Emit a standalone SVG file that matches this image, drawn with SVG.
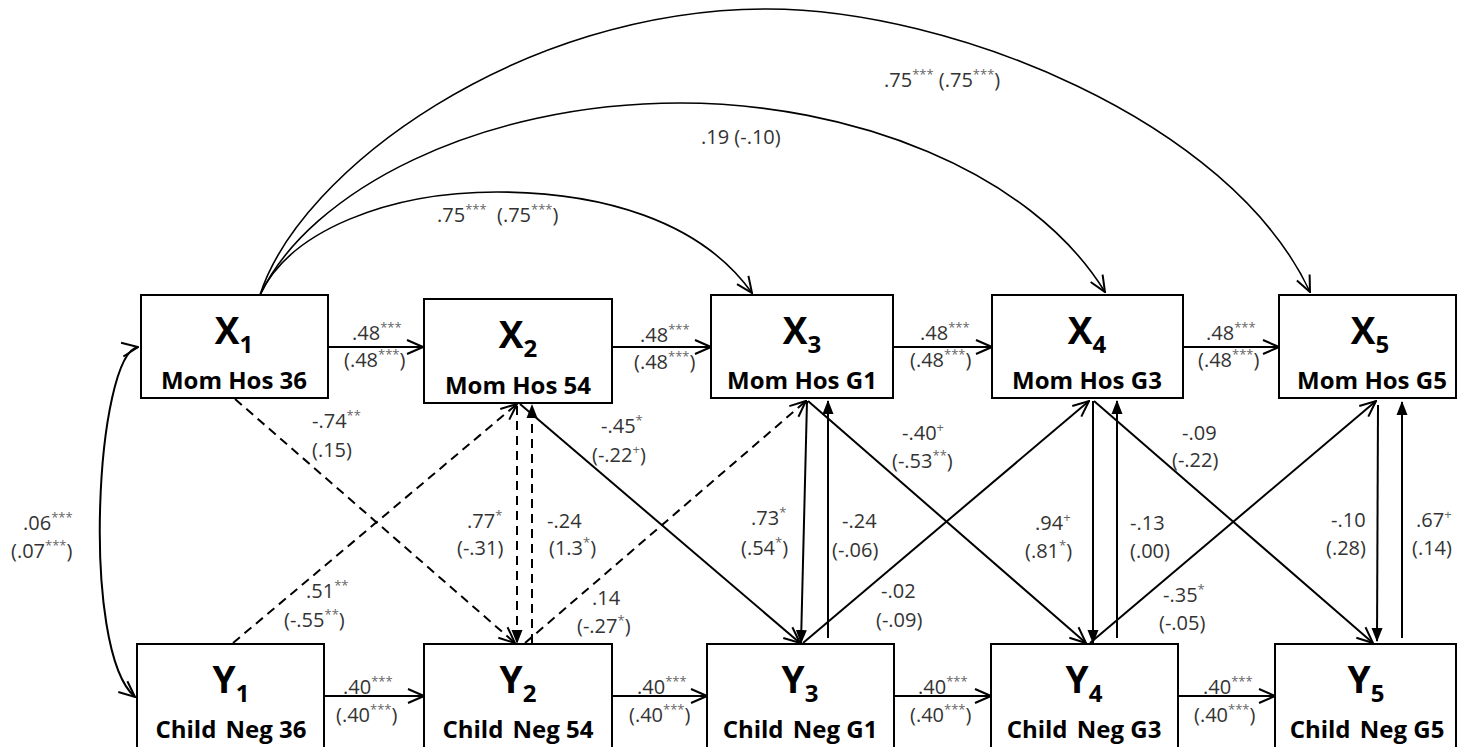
<svg xmlns="http://www.w3.org/2000/svg" width="1457" height="747" viewBox="0 0 1457 747">
<style>
.box{fill:#fff;stroke:#000;stroke-width:2}
.nt{font-family:"Open Sans","Liberation Sans",sans-serif;font-weight:bold;fill:#000;text-anchor:middle}
.big{font-size:37px}
.sub{font-size:24px}
.name{font-size:24px}
.lab{font-family:"Open Sans","Liberation Sans",sans-serif;font-size:20px;fill:#333}
.st{font-size:13px;fill:#666}
.c{fill:none;stroke:#000;stroke-width:2}
.d{stroke-dasharray:9 6}
.arc{stroke-width:1.6}
</style>
<defs>
<marker id="open" viewBox="0 0 18 18" refX="17" refY="9" markerWidth="18" markerHeight="18" markerUnits="userSpaceOnUse" orient="auto-start-reverse"><path d="M1,2 L17,9 L1,16" fill="none" stroke="#000" stroke-width="2"/></marker>
<marker id="fill" viewBox="0 0 14 14" refX="13" refY="7" markerWidth="14" markerHeight="14" markerUnits="userSpaceOnUse" orient="auto"><path d="M0,1.5 L14,7 L0,12.5 Z" fill="#000"/></marker>
</defs>
<rect width="1457" height="747" fill="#fff"/>
<g id="connectors">
<path class="c arc" d="M260,295 C290,230 390,192 497,192 C600,192 700,220 752,293" marker-end="url(#open)"/>
<path class="c arc" d="M260,295 C310,190 480,103 680,103 C850,103 1030,170 1105,292" marker-end="url(#open)"/>
<path class="c arc" d="M260,295 C300,170 520,9 767,9 C950,9 1230,120 1310,292" marker-end="url(#open)"/>
<path class="c" d="M138,347 C96,354 80,650 135,697" marker-start="url(#open)" marker-end="url(#open)"/>
<line class="c" x1="328" y1="347" x2="423" y2="347" marker-end="url(#open)"/>
<line class="c" x1="612" y1="347" x2="711" y2="347" marker-end="url(#open)"/>
<line class="c" x1="893" y1="347" x2="992" y2="347" marker-end="url(#open)"/>
<line class="c" x1="1183" y1="347" x2="1279" y2="347" marker-end="url(#open)"/>
<line class="c" x1="324" y1="696" x2="424" y2="696" marker-end="url(#open)"/>
<line class="c" x1="612" y1="696" x2="707" y2="696" marker-end="url(#open)"/>
<line class="c" x1="894" y1="696" x2="991" y2="696" marker-end="url(#open)"/>
<line class="c" x1="1178" y1="696" x2="1275" y2="696" marker-end="url(#open)"/>
<line class="c d" x1="235" y1="399" x2="515" y2="643" marker-end="url(#open)"/>
<line class="c d" x1="233" y1="643" x2="517" y2="404" marker-end="url(#open)"/>
<line class="c d" x1="517" y1="406" x2="517" y2="643" marker-end="url(#fill)"/>
<line class="c d" x1="532" y1="643" x2="532" y2="405" marker-end="url(#fill)"/>
<line class="c" x1="520" y1="404" x2="800" y2="643" marker-end="url(#open)"/>
<line class="c d" x1="525" y1="643" x2="806" y2="401" marker-end="url(#open)"/>
<line class="c" x1="807" y1="401" x2="801" y2="643" marker-end="url(#fill)"/>
<line class="c" x1="828" y1="638" x2="828" y2="401" marker-end="url(#fill)"/>
<line class="c" x1="808" y1="401" x2="1086" y2="643" marker-end="url(#open)"/>
<line class="c" x1="803" y1="643" x2="1089" y2="401" marker-end="url(#open)"/>
<line class="c" x1="1093" y1="401" x2="1093" y2="643" marker-end="url(#fill)"/>
<line class="c" x1="1117" y1="638" x2="1117" y2="401" marker-end="url(#fill)"/>
<line class="c" x1="1094" y1="401" x2="1373" y2="643" marker-end="url(#open)"/>
<line class="c" x1="1090" y1="643" x2="1376" y2="401" marker-end="url(#open)"/>
<line class="c" x1="1378" y1="405" x2="1377" y2="641" marker-end="url(#fill)"/>
<line class="c" x1="1402" y1="638" x2="1402" y2="402" marker-end="url(#fill)"/>
</g>
<g id="labels" class="lab">
<text x="437" y="222">.75<tspan class="st" dy="-8">***</tspan><tspan dy="8" xml:space="preserve">  (.75</tspan><tspan class="st" dy="-8">***</tspan><tspan dy="8">)</tspan></text>
<text x="701" y="144">.19 (-.10)</text>
<text x="884" y="87">.75<tspan class="st" dy="-8">***</tspan><tspan dy="8"> (.75</tspan><tspan class="st" dy="-8">***</tspan><tspan dy="8">)</tspan></text>
<text x="23" y="530">.06<tspan class="st" dy="-8">***</tspan></text>
<text x="11" y="558">(.07<tspan class="st" dy="-8">***</tspan><tspan dy="8">)</tspan></text>
<text x="352" y="340">.48<tspan class="st" dy="-8">***</tspan></text>
<text x="344" y="367">(.48<tspan class="st" dy="-8">***</tspan><tspan dy="8">)</tspan></text>
<text x="640" y="342">.48<tspan class="st" dy="-8">***</tspan></text>
<text x="634" y="369">(.48<tspan class="st" dy="-8">***</tspan><tspan dy="8">)</tspan></text>
<text x="920" y="340">.48<tspan class="st" dy="-8">***</tspan></text>
<text x="910" y="367">(.48<tspan class="st" dy="-8">***</tspan><tspan dy="8">)</tspan></text>
<text x="1206" y="340">.48<tspan class="st" dy="-8">***</tspan></text>
<text x="1198" y="367">(.48<tspan class="st" dy="-8">***</tspan><tspan dy="8">)</tspan></text>
<text x="343" y="694">.40<tspan class="st" dy="-8">***</tspan></text>
<text x="336" y="722">(.40<tspan class="st" dy="-8">***</tspan><tspan dy="8">)</tspan></text>
<text x="637" y="694">.40<tspan class="st" dy="-8">***</tspan></text>
<text x="629" y="722">(.40<tspan class="st" dy="-8">***</tspan><tspan dy="8">)</tspan></text>
<text x="918" y="694">.40<tspan class="st" dy="-8">***</tspan></text>
<text x="910" y="722">(.40<tspan class="st" dy="-8">***</tspan><tspan dy="8">)</tspan></text>
<text x="1203" y="694">.40<tspan class="st" dy="-8">***</tspan></text>
<text x="1194" y="722">(.40<tspan class="st" dy="-8">***</tspan><tspan dy="8">)</tspan></text>
<text x="312" y="428">-.74<tspan class="st" dy="-8">**</tspan></text>
<text x="312" y="457">(.15)</text>
<text x="306" y="598">.51<tspan class="st" dy="-8">**</tspan></text>
<text x="284" y="627">(-.55<tspan class="st" dy="-8">**</tspan><tspan dy="8">)</tspan></text>
<text x="467" y="528">.77<tspan class="st" dy="-8">*</tspan></text>
<text x="457" y="555">(-.31)</text>
<text x="547" y="528">-.24</text>
<text x="549" y="555">(1.3<tspan class="st" dy="-8">*</tspan><tspan dy="8">)</tspan></text>
<text x="601" y="433">-.45<tspan class="st" dy="-8">*</tspan></text>
<text x="592" y="462">(-.22<tspan class="st" dy="-8">+</tspan><tspan dy="8">)</tspan></text>
<text x="592" y="605">.14</text>
<text x="577" y="633">(-.27<tspan class="st" dy="-8">*</tspan><tspan dy="8">)</tspan></text>
<text x="751" y="525">.73<tspan class="st" dy="-8">*</tspan></text>
<text x="741" y="555">(.54<tspan class="st" dy="-8">*</tspan><tspan dy="8">)</tspan></text>
<text x="842" y="528">-.24</text>
<text x="832" y="557">(-.06)</text>
<text x="902" y="440">-.40<tspan class="st" dy="-8">+</tspan></text>
<text x="892" y="468">(-.53<tspan class="st" dy="-8">**</tspan><tspan dy="8">)</tspan></text>
<text x="881" y="598">-.02</text>
<text x="876" y="627">(-.09)</text>
<text x="1035" y="530">.94<tspan class="st" dy="-8">+</tspan></text>
<text x="1025" y="558">(.81<tspan class="st" dy="-8">*</tspan><tspan dy="8">)</tspan></text>
<text x="1130" y="530">-.13</text>
<text x="1130" y="558">(.00)</text>
<text x="1182" y="440">-.09</text>
<text x="1172" y="467">(-.22)</text>
<text x="1163" y="602">-.35<tspan class="st" dy="-8">*</tspan></text>
<text x="1159" y="630">(-.05)</text>
<text x="1331" y="527">-.10</text>
<text x="1326" y="555">(.28)</text>
<text x="1416" y="527">.67<tspan class="st" dy="-8">+</tspan></text>
<text x="1412" y="555">(.14)</text>
</g>
<g id="X1"><rect class="box" x="141" y="295" width="187" height="103"/><text class="nt big" x="234" y="344">X<tspan class="sub" dy="9">1</tspan></text><text class="nt name" x="234" y="389">Mom Hos 36</text></g>
<g id="X2"><rect class="box" x="424" y="299" width="188" height="104"/><text class="nt big" x="518" y="348">X<tspan class="sub" dy="9">2</tspan></text><text class="nt name" x="518" y="394">Mom Hos 54</text></g>
<g id="X3"><rect class="box" x="711" y="295" width="182" height="103"/><text class="nt big" x="802" y="344">X<tspan class="sub" dy="9">3</tspan></text><text class="nt name" x="802" y="389">Mom Hos G1</text></g>
<g id="X4"><rect class="box" x="992" y="295" width="191" height="103"/><text class="nt big" x="1087" y="344">X<tspan class="sub" dy="9">4</tspan></text><text class="nt name" x="1087" y="389">Mom Hos G3</text></g>
<g id="X5"><rect class="box" x="1279" y="295" width="177" height="103"/><text class="nt big" x="1370" y="344">X<tspan class="sub" dy="9">5</tspan></text><text class="nt name" x="1372" y="389">Mom Hos G5</text></g>
<g id="Y1"><rect class="box" x="137" y="644" width="187" height="115"/><text class="nt big" x="231" y="693">Y<tspan class="sub" dy="9">1</tspan></text><text class="nt name" x="231" y="738">Child<tspan dx="3"> Neg 36</tspan></text></g>
<g id="Y2"><rect class="box" x="424" y="644" width="188" height="115"/><text class="nt big" x="518" y="693">Y<tspan class="sub" dy="9">2</tspan></text><text class="nt name" x="518" y="738">Child<tspan dx="3"> Neg 54</tspan></text></g>
<g id="Y3"><rect class="box" x="707" y="644" width="187" height="115"/><text class="nt big" x="800" y="693">Y<tspan class="sub" dy="9">3</tspan></text><text class="nt name" x="800" y="738">Child<tspan dx="3"> Neg G1</tspan></text></g>
<g id="Y4"><rect class="box" x="991" y="644" width="187" height="115"/><text class="nt big" x="1084" y="693">Y<tspan class="sub" dy="9">4</tspan></text><text class="nt name" x="1084" y="738">Child<tspan dx="3"> Neg G3</tspan></text></g>
<g id="Y5"><rect class="box" x="1275" y="644" width="181" height="115"/><text class="nt big" x="1366" y="693">Y<tspan class="sub" dy="9">5</tspan></text><text class="nt name" x="1367" y="738">Child<tspan dx="3"> Neg G5</tspan></text></g>
</svg>
